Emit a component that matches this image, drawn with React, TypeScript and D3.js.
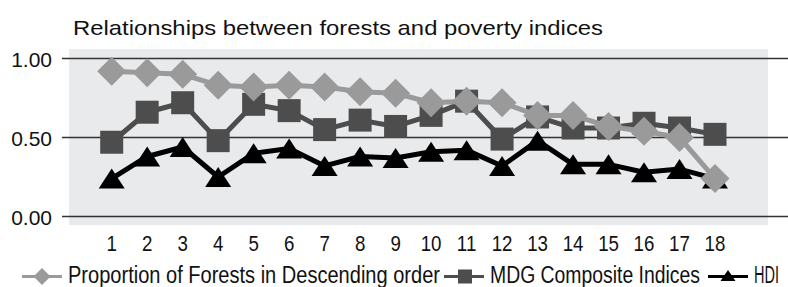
import * as d3 from "d3";

const categories = d3.range(1, 19);
const forests = [0.92, 0.91, 0.9, 0.83, 0.82, 0.83, 0.82, 0.79, 0.78, 0.72, 0.73, 0.72, 0.64, 0.64, 0.57, 0.54, 0.5, 0.24];
const mdg = [0.47, 0.66, 0.72, 0.48, 0.71, 0.67, 0.55, 0.61, 0.57, 0.64, 0.73, 0.49, 0.63, 0.56, 0.56, 0.59, 0.56, 0.52];
const hdi = [0.24, 0.38, 0.44, 0.25, 0.4, 0.43, 0.32, 0.38, 0.37, 0.41, 0.42, 0.32, 0.48, 0.33, 0.33, 0.28, 0.3, 0.24];
const yTicks = [0, 0.5, 1];
const title = "Relationships between forests and poverty indices";
const legendLabels = ["Proportion of Forests in Descending order", "MDG Composite Indices", "HDI"];

const W = 788, H = 287;
const C_FOREST = "#9a9a9a", C_MDG = "#4d4d4d", C_HDI = "#000000";
const narrow = "'Liberation Sans Narrow', 'Arial Narrow', 'Liberation Sans', Arial, sans-serif";
const sans = "'Liberation Sans', Arial, Helvetica, sans-serif";

const x = d3.scaleLinear().domain([1, 18]).range([111.7, 715]);
const y = d3.scaleLinear().domain([0, 1]).range([216.5, 58.5]);

const diamond = (cx: number, cy: number, r: number) =>
  `M${cx},${cy - r}L${cx + r},${cy}L${cx},${cy + r}L${cx - r},${cy}Z`;
const tri = (cx: number, cy: number, w: number, h: number) =>
  `M${cx},${cy - h / 2}L${cx + w / 2},${cy + h / 2}L${cx - w / 2},${cy + h / 2}Z`;

export default function App() {
  const line = d3.line<number>().x((_, i) => x(categories[i])).y((v) => y(v));

  return (
    <svg width={W} height={H} style={{ position: "absolute", left: 0, top: 0, background: "#fff" }}>
      <text x={73} y={35} fontFamily={sans} fontSize={21} fill="#111" textLength={530} lengthAdjust="spacingAndGlyphs">
        {title}
      </text>
      <rect x={69} y={49} width={699} height={176} fill="#e9eaec" />
      {yTicks.map((t) => (
        <g key={t}>
          <line x1={62} x2={W} y1={y(t)} y2={y(t)} stroke="#333" strokeWidth={1.5} />
          <text x={52} y={y(t) + 8} textAnchor="end" fontFamily={sans} fontSize={21} fill="#111">
            {t.toFixed(2)}
          </text>
        </g>
      ))}
      {categories.map((c) => (
        <text key={c} x={x(c)} y={250.7} textAnchor="middle" fontFamily={narrow} fontSize={22} fill="#111"
          transform={`translate(${x(c)},0) scale(0.85,1) translate(${-x(c)},0)`}>
          {c}
        </text>
      ))}

      {/* HDI */}
      <path d={line(hdi) || ""} fill="none" stroke={C_HDI} strokeWidth={5} strokeLinejoin="round" />
      {hdi.map((v, i) => (
        <path key={i} d={tri(x(categories[i]), y(v), 26, 20)} fill={C_HDI} />
      ))}
      {/* MDG */}
      <path d={line(mdg) || ""} fill="none" stroke={C_MDG} strokeWidth={5} strokeLinejoin="round" />
      {mdg.map((v, i) => (
        <rect key={i} x={x(categories[i]) - 11.5} y={y(v) - 11.5} width={23} height={23} fill={C_MDG} />
      ))}
      {/* Forests */}
      <path d={line(forests) || ""} fill="none" stroke={C_FOREST} strokeWidth={5} strokeLinejoin="round" />
      {forests.map((v, i) => (
        <path key={i} d={diamond(x(categories[i]), y(v), 14.5)} fill={C_FOREST} />
      ))}

      {/* legend */}
      <g fontFamily={narrow} fontSize={23} fill="#111">
        <line x1={22} x2={62} y1={276.5} y2={276.5} stroke={C_FOREST} strokeWidth={3} />
        <path d={diamond(42, 276.5, 8.5)} fill={C_FOREST} />
        <text x={68} y={283} textLength={372} lengthAdjust="spacingAndGlyphs">{legendLabels[0]}</text>
        <line x1={444} x2={484} y1={276.5} y2={276.5} stroke={C_MDG} strokeWidth={3} />
        <rect x={458} y={269.5} width={14} height={14} fill={C_MDG} />
        <text x={490} y={283} textLength={210} lengthAdjust="spacingAndGlyphs">{legendLabels[1]}</text>
        <line x1={708} x2={748} y1={276.5} y2={276.5} stroke={C_HDI} strokeWidth={3} />
        <path d={tri(728, 275.5, 15, 11)} fill={C_HDI} />
        <text x={754} y={283} textLength={25} lengthAdjust="spacingAndGlyphs">{legendLabels[2]}</text>
      </g>
    </svg>
  );
}
